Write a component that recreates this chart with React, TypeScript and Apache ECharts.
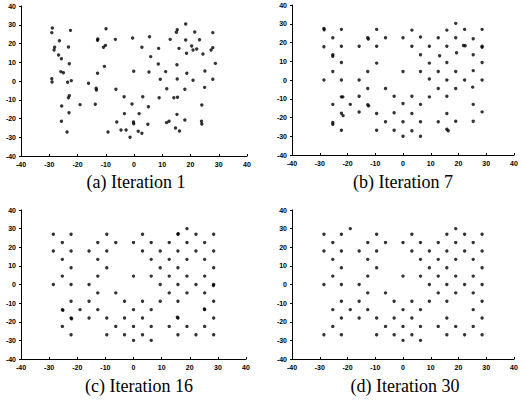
import React, { useEffect, useRef } from "react";
import * as echarts from "echarts";

const tickValues = [-40, -30, -20, -10, 0, 10, 20, 30, 40];
const titles = ["(a) Iteration 1", "(b) Iteration 7", "(c) Iteration 16", "(d) Iteration 30"];

const iter1: number[][] = [
  [-28.9, 28.3], [-29.1, 25.8], [-28.1, 18.0], [-28.3, 16.5], [-26.4, 21.5], [-26.7, 13.9],
  [-25.7, 11.9], [-25.9, 5.0], [-25.0, 4.4], [-29.1, 1.2], [-29.0, -0.5], [-22.5, 27.0],
  [-23.2, 18.1], [-22.9, 9.2], [-23.5, -0.7], [-22.2, 0.2], [-22.9, -7.8], [-23.2, -8.9],
  [-25.6, -13.3], [-23.0, -16.9], [-25.7, -21.5], [-23.7, -27.2], [-19.1, -12.6], [-16.1, -1.2],
  [-13.4, -3.9], [-13.3, -4.8], [-13.7, -12.4], [-12.9, 4.1], [-12.8, 22.4], [-12.9, 21.7],
  [-9.9, 27.9], [-10.1, 19.0], [-10.8, 18.0], [-10.5, 7.8], [-9.2, -27.2], [-6.6, 22.2],
  [-6.4, -4.4], [-6.1, -21.9], [-4.6, -26.1], [-2.8, -26.1], [-3.4, -17.4], [-3.5, -8.4],
  [-1.4, -30.0], [-0.5, 22.9], [-0.1, 5.2], [-0.7, -12.3], [-0.2, -21.9], [-0.1, -22.8],
  [1.5, -26.8], [2.8, -27.9], [1.8, -17.4], [3.1, -8.4], [2.8, 18.0], [5.5, 23.6],
  [5.9, 13.0], [5.3, 4.8], [5.1, -13.7], [4.9, -23.1], [8.7, 17.4], [8.6, 9.1],
  [9.3, 0.9], [8.9, -8.9], [11.2, 5.0], [11.6, -4.1], [12.8, 22.2], [11.5, -22.2],
  [12.4, -21.5], [14.7, -25.1], [16.1, -26.7], [14.1, -8.9], [15.4, -8.7], [15.2, -17.8],
  [15.3, 1.1], [15.2, 8.7], [15.9, 17.4], [15.0, 26.0], [15.3, 27.4], [18.3, 30.4],
  [18.3, 21.9], [18.6, 14.8], [18.7, 4.1], [18.0, -4.4], [18.0, -20.8], [20.4, 18.7],
  [20.9, 16.5], [22.2, 17.1], [21.5, 26.1], [23.2, 22.0], [20.9, 0.4], [24.4, 14.4],
  [25.1, 5.3], [25.0, -3.4], [24.0, -12.8], [23.9, -21.5], [24.0, -22.9], [27.9, 25.8],
  [27.9, 17.8], [27.3, 16.5], [28.8, 9.4], [27.9, 0.9],
];

const iter7: number[][] = [
  [-28.5, 27.5], [-28.4, 26.8], [-22.2, 27], [-9.5, 27], [3.2, 26.6], [15.8, 26.6], [19, 30.2], [22.2, 27], [28.5, 27],
  [-25.3, 22.5], [-12.7, 22.5], [-12.5, 21.9], [-6.3, 22.5], [0, 22.5], [6.3, 22.9], [12.7, 22.5], [19, 22.5], [25.3, 22],
  [-28.5, 17.7], [-22.2, 18], [-15.8, 18], [-9.5, 18], [3.2, 18], [9.5, 18], [15.8, 18], [21.8, 18.4], [22.4, 18.3], [28.5, 18], [28.5, 17.5],
  [-25.3, 13.5], [-25.3, 12.7], [6.3, 13.5], [13.2, 12.9], [19.3, 14.5], [25.3, 13.5],
  [-22.2, 9.3], [-9.5, 9], [9.5, 9], [15.8, 9.3], [28.5, 9.3],
  [-25.3, 4.5], [-12.7, 4.5], [0, 4.5], [6.3, 4.5], [12.7, 4.5], [19, 4.5], [25.3, 5],
  [-28.5, 0], [-22.2, 0], [-15.8, 0], [9.5, 0.5], [15.8, 0], [22.2, 0], [28.5, 0],
  [-12.7, -4.5], [-6.3, -4.5], [12.7, -4.5], [19, -4.5], [25.1, -3.8],
  [-22.2, -9], [-21.7, -9], [-15.8, -8.7], [-3.2, -8.7], [3.2, -8.7], [9.5, -9], [15.8, -8.7],
  [-25.3, -13], [-19, -13], [-12.7, -13.2], [-12.4, -13.8], [0, -12.5], [6.3, -13], [25.3, -13],
  [-22.2, -17.7], [-21.6, -19], [-15.8, -17.1], [-9.5, -17.9], [-3.2, -17.5], [3.2, -17.9], [15.8, -17.9], [28.5, -17],
  [-25.3, -22.7], [-25.3, -23.6], [-6.3, -22.3], [0, -22.3], [6.3, -22.3], [12.7, -22.3], [19, -22], [25.3, -22],
  [-22.2, -26.8], [-9.5, -26.8], [-3.2, -26.8], [3.2, -27.1], [15.8, -26.3], [16.3, -27.1],
  [0, -30], [6.3, -30],
];

const iter16: number[][] = [
  [-28.5, 27], [-22.2, 27], [-9.5, 27], [3.2, 27], [15.8, 27], [15.9, 27.3], [22.2, 27], [28.5, 27],
  [19, 30],
  [-25.3, 22.5], [-12.7, 22.5], [-6.3, 22.5], [0, 22.5], [6.3, 22.5], [12.7, 22.5], [19, 22.5], [25.3, 22.5],
  [-28.5, 18], [-22.2, 18], [-15.8, 18], [-9.5, 18], [3.2, 18], [9.5, 18], [15.8, 18], [22.2, 18], [28.5, 18],
  [-25.3, 13.5], [-12.7, 13.5], [6.3, 13.5], [12.7, 13.5], [19, 13.5], [25.3, 13.5],
  [-22.2, 9], [-9.5, 9], [9.5, 9], [15.8, 9], [28.5, 9],
  [-25.3, 4.5], [-12.7, 4.5], [0, 4.5], [6.3, 4.5], [12.7, 4.5], [19, 4.5], [25.3, 4.5],
  [-28.5, 0], [-22.2, 0], [-15.8, 0], [9.5, 0], [15.8, 0], [22.2, 0], [28.5, 0], [28.4, -0.5],
  [-12.7, -4.5], [-6.3, -4.5], [12.7, -4.5], [19, -4.5], [25.3, -4.5],
  [-22.2, -9], [-15.8, -9], [-3.2, -9], [3.2, -9], [9.5, -9], [15.8, -9], [28.5, -9],
  [-25.3, -13.5], [-25.1, -13.8], [-19, -13.5], [-12.7, -13.5], [0, -13.5], [6.3, -13.5], [25.3, -13.5], [25.2, -13.2],
  [-22.2, -18], [-22, -18.4], [-15.8, -18], [-9.5, -18], [-3.2, -18], [3.2, -18], [15.8, -18], [15.6, -17.6], [28.5, -18],
  [-25.3, -22.5], [-6.3, -22.5], [0, -22.5], [6.3, -22.5], [12.7, -22.5], [19, -22.5], [25.3, -22.5],
  [-22.2, -27], [-9.5, -27], [-3.2, -27], [3.2, -27], [15.8, -27], [22.2, -27], [28.5, -27],
  [0, -30], [6.3, -30],
];

const iter30: number[][] = [
  [-28.5, 27], [-22.2, 27], [-9.5, 27], [3.2, 27], [15.8, 27], [22.2, 27], [28.5, 27],
  [-19, 30], [19, 30],
  [-25.3, 22.5], [-12.7, 22.5], [-6.3, 22.5], [0, 22.5], [6.3, 22.5], [12.7, 22.5], [19, 22.5], [25.3, 22.5],
  [-28.5, 18], [-22.2, 18], [-15.8, 18], [-9.5, 18], [3.2, 18], [9.5, 18], [15.8, 18], [22.2, 18], [28.5, 18],
  [-25.3, 13.5], [-12.7, 13.5], [6.3, 13.5], [12.7, 13.5], [19, 13.5], [25.3, 13.5],
  [-22.2, 9], [-9.5, 9], [9.5, 9], [15.8, 9], [28.5, 9],
  [-25.3, 4.5], [-12.7, 4.5], [0, 4.5], [6.3, 4.5], [12.7, 4.5], [19, 4.5], [25.3, 4.5],
  [-28.5, 0], [-22.2, 0], [-15.8, 0], [9.5, 0], [15.8, 0], [22.2, 0], [28.5, 0],
  [-12.7, -4.5], [-6.3, -4.5], [12.7, -4.5], [19, -4.5], [25.3, -4.5],
  [-22.2, -9], [-15.8, -9], [-3.2, -9], [3.2, -9], [9.5, -9], [15.8, -9], [28.5, -9],
  [-25.3, -13.5], [-19, -13.5], [-12.7, -13.5], [0, -13.5], [6.3, -13.5], [25.3, -13.5],
  [-22.2, -18], [-15.8, -18], [-9.5, -18], [-3.2, -18], [3.2, -18], [15.8, -18], [28.5, -18],
  [-25.3, -22.5], [-6.3, -22.5], [0, -22.5], [6.3, -22.5], [12.7, -22.5], [19, -22.5], [25.3, -22.5],
  [-28.5, -27], [-22.2, -27], [-9.5, -27], [-3.2, -27], [3.2, -27], [15.8, -27], [22.2, -27], [28.5, -27],
  [0, -30], [6.3, -30],
];

const panels = [iter1, iter7, iter16, iter30];

export default function App() {
  const ref = useRef<HTMLDivElement>(null);
  useEffect(() => {
    if (!ref.current) return;
    const chart = echarts.init(ref.current, null, { renderer: "svg" });
    const grids = [
      { left: 21, top: 6, width: 226, height: 150 },
      { left: 292, top: 5, width: 222, height: 150 },
      { left: 21, top: 210, width: 225, height: 149 },
      { left: 292, top: 210, width: 222, height: 149 },
    ];
    const titlePos = [
      [136, 173],
      [403, 173],
      [139, 377],
      [405, 377],
    ];
    const axisLabel = {
      fontSize: 7,
      fontWeight: "bold" as const,
      color: "#000",
      fontFamily: "Liberation Sans",
    };
    const axisCommon = {
      type: "value" as const,
      min: tickValues[0],
      max: tickValues[tickValues.length - 1],
      interval: 10,
      splitLine: { show: false },
      axisLine: { show: true, onZero: false, lineStyle: { color: "#000", width: 1 } },
      axisTick: { show: true, inside: true, length: 2, lineStyle: { color: "#000" } },
    };
    chart.setOption({
      animation: false,
      backgroundColor: "#fff",
      title: titles.map((t, i) => ({
        text: t,
        left: titlePos[i][0],
        top: titlePos[i][1],
        textAlign: "center",
        padding: 0,
        textStyle: {
          fontFamily: "serif",
          fontSize: 18,
          fontWeight: "normal",
          color: "#000",
        },
      })),
      grid: grids,
      xAxis: grids.map((_, i) => ({
        ...axisCommon,
        gridIndex: i,
        axisLabel: { ...axisLabel, margin: 5 },
      })),
      yAxis: grids.map((_, i) => ({
        ...axisCommon,
        gridIndex: i,
        axisTick: { show: true, inside: false, length: 2, lineStyle: { color: "#000" } },
        axisLabel: { ...axisLabel, margin: 5 },
      })),
      series: panels.map((d, i) => ({
        type: "scatter",
        xAxisIndex: i,
        yAxisIndex: i,
        data: d,
        symbol: "circle",
        symbolSize: 3.4,
        itemStyle: { color: "#000" },
      })),
    });
    return () => chart.dispose();
  }, []);
  return (
    <div
      ref={ref}
      style={{ position: "fixed", left: 0, top: 0, width: 521, height: 408, background: "#fff" }}
    />
  );
}
